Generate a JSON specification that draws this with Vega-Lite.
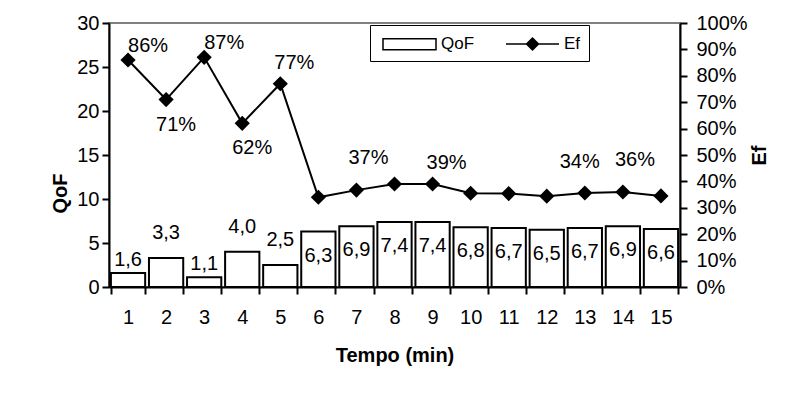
{
  "$schema": "https://vega.github.io/schema/vega-lite/v6.json",
  "width": 571,
  "height": 264,
  "autosize": "none",
  "padding": {"left": 109, "top": 23, "right": 129, "bottom": 108},
  "background": "white",
  "config": {
    "font": "Liberation Sans",
    "locale": {"number": {"decimal": ",", "thousands": ".", "grouping": [3], "currency": ["", ""]}},
    "view": {"stroke": "#808080", "strokeWidth": 2},
    "axis": {
      "labelFont": "Liberation Sans", "titleFont": "Liberation Sans",
      "labelFontSize": 20, "titleFontSize": 20, "titleFontWeight": "bold",
      "labelColor": "black", "titleColor": "black",
      "domainColor": "black", "tickColor": "black",
      "domainWidth": 2, "tickWidth": 2, "tickSize": 7, "grid": false
    },
    "text": {"font": "Liberation Sans", "fontSize": 20, "color": "black"}
  },
  "data": {
    "values": [
      {"Tempo": 1, "QoF": 1.6, "Ef": 0.86},
      {"Tempo": 2, "QoF": 3.3, "Ef": 0.71},
      {"Tempo": 3, "QoF": 1.1, "Ef": 0.87},
      {"Tempo": 4, "QoF": 4.0, "Ef": 0.62},
      {"Tempo": 5, "QoF": 2.5, "Ef": 0.77},
      {"Tempo": 6, "QoF": 6.3, "Ef": 0.34},
      {"Tempo": 7, "QoF": 6.9, "Ef": 0.367},
      {"Tempo": 8, "QoF": 7.4, "Ef": 0.39},
      {"Tempo": 9, "QoF": 7.4, "Ef": 0.39},
      {"Tempo": 10, "QoF": 6.8, "Ef": 0.355},
      {"Tempo": 11, "QoF": 6.7, "Ef": 0.354},
      {"Tempo": 12, "QoF": 6.5, "Ef": 0.344},
      {"Tempo": 13, "QoF": 6.7, "Ef": 0.356},
      {"Tempo": 14, "QoF": 6.9, "Ef": 0.36},
      {"Tempo": 15, "QoF": 6.6, "Ef": 0.345}
    ]
  },
  "encoding": {
    "x": {
      "field": "Tempo", "type": "ordinal", "title": "Tempo (min)",
      "scale": {"paddingInner": 0.1, "paddingOuter": 0.05},
      "axis": {"labelAngle": 0, "tickBand": "extent", "labelPadding": 13, "titlePadding": 18}
    }
  },
  "layer": [
    {
      "encoding": {
        "y": {
          "field": "QoF", "type": "quantitative", "title": "QoF",
          "scale": {"domain": [0, 30]},
          "axis": {"orient": "left", "values": [0, 5, 10, 15, 20, 25, 30], "labelPadding": 3, "titlePadding": 6, "titleY": 170}
        }
      },
      "layer": [
        {"mark": {"type": "bar", "fill": "white", "stroke": "black", "strokeWidth": 2}},
        {
          "transform": [{"filter": {"field": "Tempo", "oneOf": [1, 3]}}],
          "mark": {"type": "text", "baseline": "middle", "align": "center", "dy": -13},
          "encoding": {"text": {"field": "QoF", "type": "quantitative", "format": ".1f"}}
        },
        {
          "transform": [{"filter": {"field": "Tempo", "oneOf": [2, 4, 5]}}],
          "mark": {"type": "text", "baseline": "middle", "align": "center", "dy": -25},
          "encoding": {"text": {"field": "QoF", "type": "quantitative", "format": ".1f"}}
        },
        {
          "transform": [{"filter": "datum.Tempo >= 6"}],
          "mark": {"type": "text", "baseline": "middle", "align": "center", "dy": 24},
          "encoding": {"text": {"field": "QoF", "type": "quantitative", "format": ".1f"}}
        }
      ]
    },
    {
      "encoding": {
        "y": {
          "field": "Ef", "type": "quantitative", "title": "Ef",
          "scale": {"domain": [0, 1]},
          "axis": {
            "orient": "right", "values": [0, 0.1, 0.2, 0.3, 0.4, 0.5, 0.6, 0.7, 0.8, 0.9, 1], "format": ".0%",
            "labelPadding": 9, "titleAngle": 270, "titlePadding": 22,
            "encode": {"ticks": {"update": {"x": {"value": -7}}}}
          }
        }
      },
      "layer": [
        {"mark": {"type": "line", "color": "black", "strokeWidth": 2}},
        {"mark": {"type": "point", "shape": "diamond", "filled": true, "color": "black", "opacity": 1, "size": 230}},
        {
          "transform": [{"filter": {"field": "Tempo", "oneOf": [1, 3]}}],
          "mark": {"type": "text", "baseline": "middle", "align": "center", "dx": 20, "dy": -14},
          "encoding": {"text": {"field": "Ef", "type": "quantitative", "format": ".0%"}}
        },
        {
          "transform": [{"filter": {"field": "Tempo", "oneOf": [2, 4]}}],
          "mark": {"type": "text", "baseline": "middle", "align": "center", "dx": 10, "dy": 25},
          "encoding": {"text": {"field": "Ef", "type": "quantitative", "format": ".0%"}}
        },
        {
          "transform": [{"filter": {"field": "Tempo", "oneOf": [5, 9]}}],
          "mark": {"type": "text", "baseline": "middle", "align": "center", "dx": 14, "dy": -21},
          "encoding": {"text": {"field": "Ef", "type": "quantitative", "format": ".0%"}}
        },
        {
          "transform": [{"filter": {"field": "Tempo", "oneOf": [7, 14]}}],
          "mark": {"type": "text", "baseline": "middle", "align": "center", "dx": 12, "dy": -32},
          "encoding": {"text": {"field": "Ef", "type": "quantitative", "format": ".0%"}}
        },
        {
          "transform": [{"filter": {"field": "Tempo", "oneOf": [12]}}],
          "mark": {"type": "text", "baseline": "middle", "align": "center", "dx": 33, "dy": -34},
          "encoding": {"text": {"field": "Ef", "type": "quantitative", "format": ".0%"}}
        }
      ]
    },
    {
      "transform": [{"filter": "false"}],
      "mark": {"type": "point", "filled": true, "stroke": "black", "strokeWidth": 2, "opacity": 1},
      "encoding": {
        "fill": {
          "field": "serie", "type": "nominal", "title": null,
          "scale": {"domain": ["QoF", "Ef"], "range": ["white", "black"]},
          "legend": {
            "orient": "none", "legendX": 261, "legendY": 2, "direction": "horizontal",
            "strokeColor": "black", "fillColor": "white", "padding": 8,
            "symbolSize": 400, "symbolOffset": -6, "labelOffset": 47, "columnPadding": 26,
            "labelFont": "Liberation Sans", "labelFontSize": 17, "labelColor": "black",
            "encode": {"symbols": {"update": {"stroke": {"value": "black"}, "strokeWidth": {"value": 2}, "opacity": {"value": 1}}}}
          }
        },
        "shape": {
          "field": "serie", "type": "nominal", "title": null,
          "scale": {"domain": ["QoF", "Ef"], "range": ["M0,-0.55H5.3V0.55H0Z", "M0,0H5.3M2.05,0L2.65,-0.6L3.25,0L2.65,0.6Z"]},
          "legend": {
            "orient": "none", "legendX": 261, "legendY": 2, "direction": "horizontal",
            "strokeColor": "black", "fillColor": "white", "padding": 8,
            "symbolSize": 400, "symbolOffset": -6, "labelOffset": 47, "columnPadding": 26,
            "labelFont": "Liberation Sans", "labelFontSize": 17, "labelColor": "black",
            "encode": {"symbols": {"update": {"stroke": {"value": "black"}, "strokeWidth": {"value": 2}, "opacity": {"value": 1}}}}
          }
        }
      }
    }
  ],
  "resolve": {"scale": {"y": "independent"}}
}
